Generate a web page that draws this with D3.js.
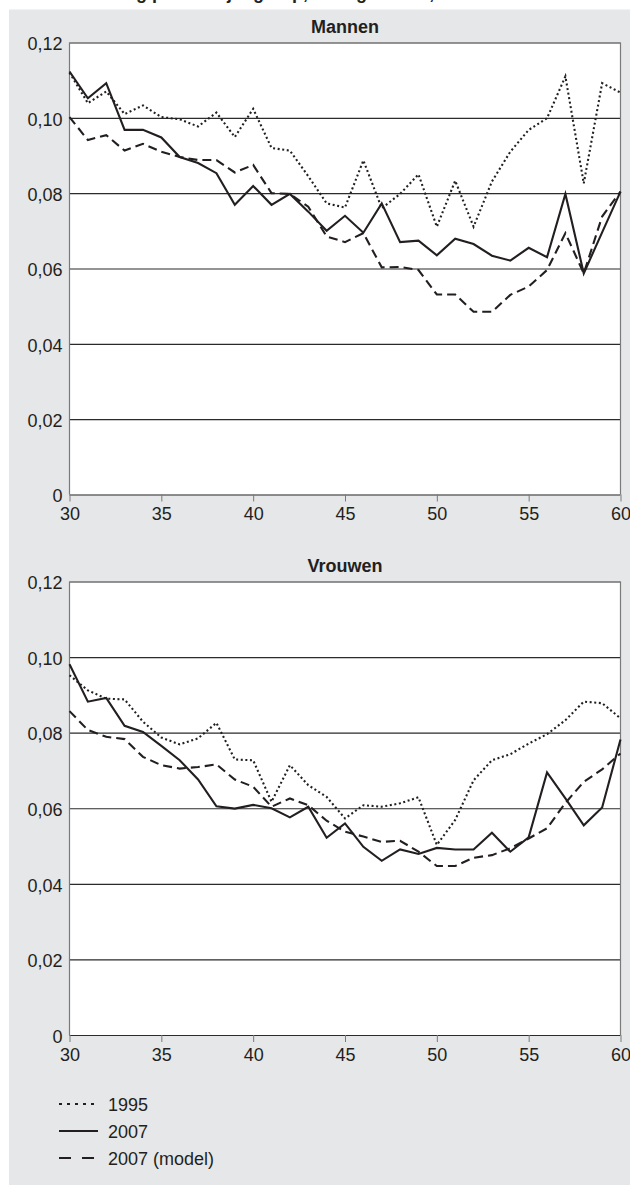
<!DOCTYPE html>
<html>
<head>
<meta charset="utf-8">
<script src="https://cdn.jsdelivr.net/npm/d3@7/dist/d3.min.js"></script>
<style>
  body { margin: 0; background: #fff; }
  text { font-family: "Liberation Sans", Arial, sans-serif; fill: #231f20; }
</style>
</head>
<body>
<div id="chart"></div>
<script>
// leeftijden
var ages = [30, 31, 32, 33, 34, 35, 36, 37, 38, 39, 40, 41, 42, 43, 44, 45,
            46, 47, 48, 49, 50, 51, 52, 53, 54, 55, 56, 57, 58, 59, 60];

var men_1995 = [0.112, 0.1039, 0.107, 0.101, 0.1033, 0.1002, 0.0996, 0.0977, 0.1014, 0.0949, 0.1024,
                0.092, 0.0913, 0.0845, 0.0773, 0.0762, 0.0887, 0.076, 0.0798, 0.085, 0.0711,
                0.0833, 0.0711, 0.0831, 0.091, 0.0968, 0.0999, 0.111, 0.0826, 0.1092, 0.1067];
var men_2007 = [0.1123, 0.1052, 0.1092, 0.0968, 0.0968, 0.0948, 0.0896, 0.088, 0.0853, 0.0769, 0.0819,
                0.0769, 0.0798, 0.0751, 0.07, 0.074, 0.0695, 0.0773, 0.067, 0.0674, 0.0635,
                0.0679, 0.0665, 0.0634, 0.0621, 0.0655, 0.063, 0.0798, 0.0587, 0.0696, 0.0804];
var men_model = [0.1002, 0.0941, 0.0954, 0.0913, 0.0931, 0.091, 0.0896, 0.0888, 0.0888, 0.0855, 0.0875,
                 0.08, 0.0798, 0.0764, 0.0685, 0.067, 0.0694, 0.0603, 0.0604, 0.0596, 0.0531,
                 0.0531, 0.0485, 0.0485, 0.053, 0.0552, 0.0596, 0.0694, 0.0587, 0.0738, 0.0804];

var women_1995 = [0.0952, 0.0912, 0.089, 0.0888, 0.0829, 0.0787, 0.0769, 0.0785, 0.0826, 0.0729, 0.0727,
                  0.0617, 0.0714, 0.0661, 0.063, 0.0573, 0.0608, 0.0604, 0.0613, 0.0629, 0.0503,
                  0.0569, 0.0674, 0.0727, 0.0743, 0.0771, 0.0796, 0.0833, 0.0882, 0.0878, 0.0838];
var women_2007 = [0.0981, 0.0882, 0.0892, 0.0818, 0.0802, 0.0765, 0.0727, 0.0676, 0.0605, 0.0599, 0.0609,
                  0.06, 0.0576, 0.0604, 0.0522, 0.056, 0.0498, 0.0461, 0.0491, 0.0479, 0.0495,
                  0.0491, 0.0491, 0.0535, 0.0485, 0.0523, 0.0695, 0.0626, 0.0555, 0.0602, 0.0782];
var women_model = [0.0857, 0.0807, 0.0789, 0.0783, 0.0736, 0.0714, 0.0705, 0.0709, 0.0716, 0.0676, 0.0657,
                   0.0604, 0.0626, 0.0608, 0.0567, 0.0538, 0.0525, 0.0511, 0.0514, 0.0485, 0.0447,
                   0.0447, 0.0469, 0.0476, 0.0494, 0.052, 0.0547, 0.0614, 0.067, 0.0703, 0.0745];

var panel_titles = ['Mannen', 'Vrouwen'];
var x_ticks = [30, 35, 40, 45, 50, 55, 60];
var y_ticks = [0, 0.02, 0.04, 0.06, 0.08, 0.10, 0.12];
var legend_labels = ['1995', '2007', '2007 (model)'];
var chart_title = 'Baanwisseling per leeftijdsgroep, naar geslacht, 1995 en 2007';

var chart_width = 630;
var chart_height = 1185;
var plot_left = 69.5;
var plot_right = 620.5;
var ink = '#231f20';

var styles = [
    { dash: '2,2.6', legend_dash: '3,5' },
    { dash: null, legend_dash: null },
    { dash: '9,5', legend_dash: '12,11' }
];

var nl = d3.formatLocale({ decimal: ',', thousands: '.', grouping: [3], currency: ['€', ''] });
var y_format = function(d) { return d === 0 ? '0' : nl.format('.2f')(d); };

var svg = d3.select('#chart')
    .append('svg')
    .attr('width', chart_width)
    .attr('height', chart_height);

// title: only its lowest part shows at the top edge, as in the source picture
svg.append('text')
    .attr('x', 22)
    .attr('y', -1)
    .style('font-size', '18px')
    .style('font-weight', 'bold')
    .text(chart_title);

// grey panel
svg.append('rect')
    .attr('x', 9)
    .attr('y', 9.5)
    .attr('width', chart_width - 9)
    .attr('height', chart_height - 9.5)
    .attr('fill', '#e6e7e8');

var x_scale = d3.scaleLinear()
    .domain([30, 60])
    .range([plot_left, plot_right]);

var panels = [
    { title: panel_titles[0], top: 42.5, bottom: 494.5, series: [men_1995, men_2007, men_model] },
    { title: panel_titles[1], top: 581.5, bottom: 1035, series: [women_1995, women_2007, women_model] }
];

panels.forEach(function(p) {
    var y_scale = d3.scaleLinear()
        .domain([0, 0.12])
        .range([p.bottom, p.top]);

    var g = svg.append('g');

    g.append('rect')
        .attr('x', plot_left)
        .attr('y', p.top)
        .attr('width', plot_right - plot_left)
        .attr('height', p.bottom - p.top)
        .attr('fill', '#fff');

    // gridlines + y labels
    var y_axis = d3.axisLeft(y_scale)
        .tickValues(y_ticks)
        .tickSize(-(plot_right - plot_left))
        .tickPadding(7)
        .tickFormat(y_format);
    var ya = g.append('g')
        .attr('transform', 'translate(' + plot_left + ',0)')
        .call(y_axis);
    ya.select('.domain').remove();
    ya.selectAll('.tick line').attr('stroke', '#2b2b2b').attr('stroke-width', 1.2);
    ya.selectAll('.tick text')
        .attr('dy', '0.4em')
        .style('font-size', '18px')
        .style('font-family', '"Liberation Sans", Arial, sans-serif')
        .attr('fill', ink);

    // x axis ticks and labels
    var x_axis = d3.axisBottom(x_scale)
        .tickValues(x_ticks)
        .tickSize(7)
        .tickPadding(6)
        .tickFormat(d3.format('d'));
    var xa = g.append('g')
        .attr('transform', 'translate(0,' + p.bottom + ')')
        .call(x_axis);
    xa.select('.domain').remove();
    xa.selectAll('.tick line').attr('stroke', '#7a7a7a');
    xa.selectAll('.tick text')
        .style('font-size', '18px')
        .style('font-family', '"Liberation Sans", Arial, sans-serif')
        .attr('fill', ink);

    // left and right frame
    g.append('line')
        .attr('x1', plot_left).attr('x2', plot_left)
        .attr('y1', p.top).attr('y2', p.bottom)
        .attr('stroke', '#7a7a7a').attr('stroke-width', 1.2);
    g.append('line')
        .attr('x1', plot_right).attr('x2', plot_right)
        .attr('y1', p.top).attr('y2', p.bottom)
        .attr('stroke', '#7a7a7a').attr('stroke-width', 1.2);

    // series
    var line = d3.line()
        .x(function(d, i) { return x_scale(ages[i]); })
        .y(function(d) { return y_scale(d); });

    [0, 2, 1].forEach(function(k) {
        g.append('path')
            .datum(p.series[k])
            .attr('fill', 'none')
            .attr('stroke', ink)
            .attr('stroke-width', 2.1)
            .attr('stroke-linejoin', 'miter')
            .attr('stroke-dasharray', styles[k].dash)
            .attr('d', line);
    });

    g.append('text')
        .attr('x', (plot_left + plot_right) / 2)
        .attr('y', p.top - 10)
        .attr('text-anchor', 'middle')
        .style('font-size', '18px')
        .style('font-weight', 'bold')
        .text(p.title);
});

// legend
var legend = svg.append('g');
legend_labels.forEach(function(label, i) {
    var ly = 1104 + i * 27;
    legend.append('line')
        .attr('x1', 59).attr('x2', 98)
        .attr('y1', ly).attr('y2', ly)
        .attr('stroke', ink)
        .attr('stroke-width', 2.1)
        .attr('stroke-dasharray', styles[i].legend_dash);
    legend.append('text')
        .attr('x', 108)
        .attr('y', ly + 6.5)
        .style('font-size', '18px')
        .text(label);
});
</script>
</body>
</html>
